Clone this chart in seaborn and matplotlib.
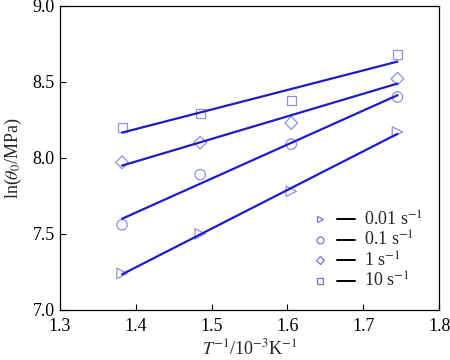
import numpy as np
import pandas as pd
import seaborn as sns
import matplotlib
matplotlib.use("Agg")
import matplotlib.pyplot as plt
from matplotlib.lines import Line2D
from matplotlib.legend_handler import HandlerTuple

# data
inv_T = [1.382, 1.485, 1.605, 1.745]
rates = ["0.01", "0.1", "1", "10"]
ln_theta_001 = [7.24, 7.50, 7.78, 8.17]
ln_theta_01 = [7.56, 7.89, 8.09, 8.40]
ln_theta_1 = [7.97, 8.10, 8.23, 8.52]
ln_theta_10 = [8.20, 8.29, 8.38, 8.68]
series = [ln_theta_001, ln_theta_01, ln_theta_1, ln_theta_10]
markers = [">", "o", "D", "s"]
msizes = [7.5, 7.5, 6.5, 6.5]

sns.set_theme(style="ticks")
plt.rcParams["font.family"] = ["Liberation Serif", "DejaVu Serif"]
plt.rcParams["mathtext.fontset"] = "stix"
plt.rcParams["xtick.direction"] = "in"
plt.rcParams["ytick.direction"] = "in"

mk_color = "#7474e0"
ln_color = "#1c1cc8"

fig = plt.figure(figsize=(4.5, 3.6), dpi=100)
ax = fig.add_axes([0.133, 0.139, 0.843, 0.845])

handles = []
for vals, m, ms, r in zip(series, markers, msizes, rates):
    df = pd.DataFrame({"x": inv_T, "y": vals})
    sns.regplot(data=df, x="x", y="y", ax=ax, ci=None, marker=m,
                scatter_kws={"s": ms**2, "facecolors": "none", "edgecolors": mk_color,
                             "linewidths": 0.9},
                line_kws={"color": ln_color, "lw": 1.6})
    h_m = Line2D([], [], marker=m, ls="none", mfc="none", mec=mk_color, ms=ms - 2.5, mew=0.9)
    h_l = Line2D([], [], color="black", lw=1.4)
    handles.append((h_m, h_l))

labels = [f"{r} s$^{{-1}}$" for r in rates]
ax.legend(handles, labels, handler_map={tuple: HandlerTuple(ndivide=None, pad=0.44)},
          loc="lower right", bbox_to_anchor=(0.99, 0.02), frameon=False, fontsize=13,
          handlelength=2.45, handletextpad=0.5, labelspacing=0.08, borderpad=0.2)

ax.set_xlim(1.3, 1.8)
ax.set_ylim(7.0, 9.0)
ax.set_xticks([1.3, 1.4, 1.5, 1.6, 1.7, 1.8])
ax.set_yticks([7.0, 7.5, 8.0, 8.5, 9.0])
ax.xaxis.set_major_formatter(matplotlib.ticker.FormatStrFormatter("%.1f"))
ax.yaxis.set_major_formatter(matplotlib.ticker.FormatStrFormatter("%.1f"))
ax.tick_params(labelsize=13, length=4, width=0.8, colors="black")
ax.tick_params(axis="x", pad=6)
for s in ax.spines.values():
    s.set_color("black")
    s.set_linewidth(0.9)
ax.set_xlabel(r"$T^{-1}$/10$^{-3}$K$^{-1}$", fontsize=13, labelpad=2)
ax.set_ylabel(r"ln($\theta_0$/MPa)", fontsize=13, labelpad=6)

fig.savefig("out.png", dpi=100)
